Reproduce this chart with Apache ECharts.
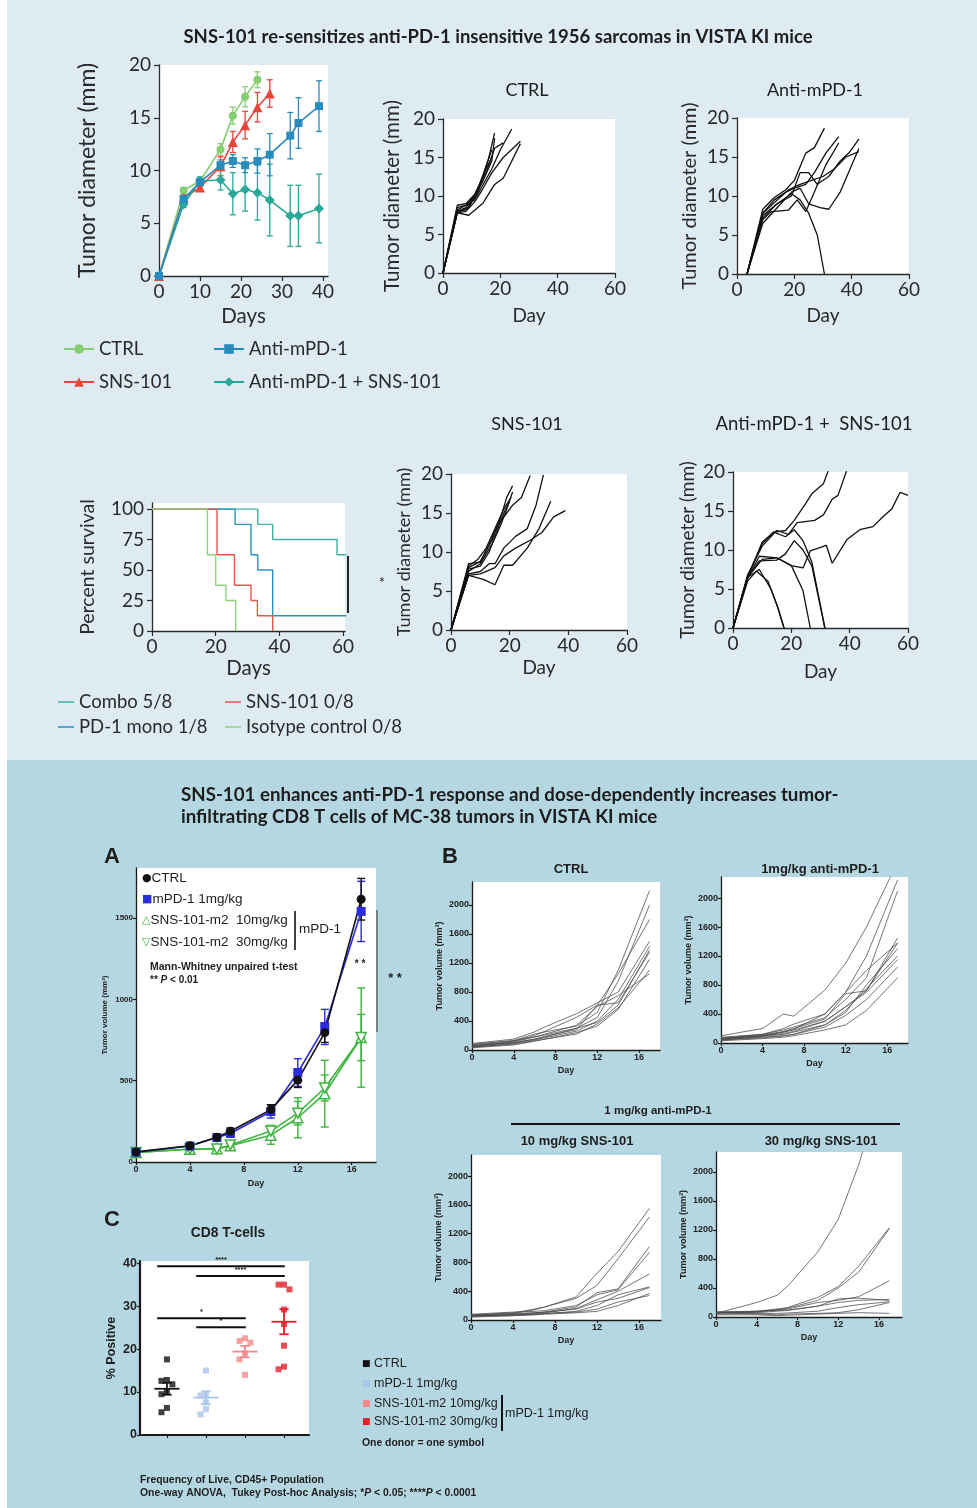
<!DOCTYPE html>
<html>
<head>
<meta charset="utf-8">
<script src="https://cdn.jsdelivr.net/npm/echarts@6/dist/echarts.min.js"></script>
<style>
html, body { margin: 0; padding: 0; background: #fff; }
#chart {
  width: 977px; height: 1508px;
  background-image: linear-gradient(to right, #fff 0, #fff 7px, transparent 7px),
                    linear-gradient(to bottom, #deebf3 0, #deebf3 760px, #b5d7e2 760px);
}
</style>
</head>
<body>
<div id="chart"></div>
<script>
'use strict';

// ---------- 1956 sarcoma: mean tumour diameter (mm) ----------
let ctrlDays = [0, 6, 10, 15, 18, 21, 24];
let ctrlMean = [0, 8.1, 9.0, 12.0, 15.2, 17.0, 18.6];
let ctrlErr  = [0, 0.3, 0.3, 0.55, 0.8, 0.95, 0.75];
let snsDays  = [0, 6, 10, 15, 18, 21, 24, 27];
let snsMean  = [0, 7.4, 8.4, 10.4, 12.7, 14.3, 16.0, 17.3];
let snsErr   = [0, 0.3, 0.3, 0.9, 1.0, 1.3, 1.4, 1.3];
let pd1Days  = [0, 6, 10, 15, 18, 21, 24, 27, 32, 34, 39];
let pd1Mean  = [0, 7.3, 8.9, 10.5, 10.9, 10.5, 10.9, 11.5, 13.3, 14.5, 16.1];
let pd1Err   = [0, 0.3, 0.4, 0.5, 0.6, 0.7, 1.15, 2.0, 2.2, 2.4, 2.4];
let comboMean = [0, 6.8, 9.0, 9.1, 7.8, 8.2, 7.9, 7.2, 5.7, 5.7, 6.4];
let comboErr  = [0, 0.3, 0.4, 0.95, 2.0, 2.05, 2.6, 3.4, 2.9, 2.9, 3.25];

// individual mice, [day, diameter]
let ctrlMice = [
  [[0,0],[5,8.8],[8,9.0],[11,10.2],[14,12.5],[16,15.0],[18,18.2]],
  [[0,0],[5,8.5],[8,8.8],[11,9.5],[14,11.5],[17,13.5],[20,16.0],[24,18.7]],
  [[0,0],[5,7.8],[8,8.0],[11,9.2],[14,11.0],[17,13.0],[21,15.0],[27,17.1]],
  [[0,0],[5,7.8],[9,7.5],[14,9.1],[18,11.5],[21,12.3],[27,16.8]],
  [[0,0],[5,8.0],[8,8.5],[11,10.0],[14,12.0],[17,14.5],[18,17.5]],
  [[0,0],[5,8.2],[8,8.8],[12,10.5],[15,13.0],[18,16.2],[21,16.9]],
  [[0,0],[5,8.0],[8,8.2],[11,9.8],[14,12.8],[17,16.0]],
  [[0,0],[5,7.9],[9,8.5],[12,10.5],[15,13.5],[17,15.0]]
];
let pd1Mice = [
  [[3.5,0],[9,8.3],[13,9.8],[17,10.8],[20,12.0],[24,15.5],[27,16.2],[30.5,18.7]],
  [[3.5,0],[9,7.5],[14,9.0],[19,10.3],[22,9.5],[25,7.8],[28,5.0],[30.5,0]],
  [[3.5,0],[9,7.8],[13,9.5],[17,10.5],[20,11.0],[24,11.5],[27,13.0],[31,15.5],[35.5,17.6]],
  [[3.5,0],[9,7.0],[12,8.0],[18,8.2],[21,9.5],[24,8.0],[27,10.5],[31,14.0],[35.5,16.8]],
  [[3.5,0],[9,7.2],[14,9.0],[19,10.0],[22,13.0],[25,13.0],[28,11.5],[32,12.5],[36,14.5],[39,15.5],[42.5,17.3]],
  [[3.5,0],[9,6.5],[14,8.5],[19,10.5],[22,11.0],[25,9.0],[29,8.5],[32,8.3],[36,10.5],[42.5,16.1]],
  [[3.5,0],[9,7.8],[14,9.5],[18,10.8],[22,11.5],[26,12.0],[30,12.5],[34,13.5],[38,15.0],[42.5,15.7]]
];
let snsMice = [
  [[0,0],[6,8.0],[10,8.8],[14,11.5],[17,14.5],[19,17.0],[21,18.5]],
  [[0,0],[6,7.5],[10,8.5],[14,11.0],[17,13.5],[19,15.5],[21,17.7]],
  [[0,0],[6,8.5],[10,8.7],[13,11.0],[16,13.5],[19,15.0],[21,16.0],[24,17.0],[27,19.8]],
  [[0,0],[6,7.2],[10,7.5],[13,8.5],[15,8.5],[18,10.5],[22,12.0],[26,13.0],[29,16.0],[31.5,19.9]],
  [[0,0],[6,7.0],[11,6.5],[15,5.8],[18,8.3],[21,8.3],[26,10.5],[30,13.0],[34,16.5]],
  [[0,0],[6,7.0],[10,7.2],[15,8.0],[18,9.5],[22,10.5],[27,11.5],[31,12.5],[35,14.5],[39,15.3]],
  [[0,0],[6,7.8],[10,8.2],[13,10.0],[16,13.0],[18,15.0],[20,16.5]],
  [[0,0],[6,8.2],[9,9.0],[12,10.5],[15,13.0],[18,15.5],[20.5,17.0]]
];
let comboMice = [
  [[0,0],[5,6.5],[10,11.0],[14,12.3],[18,12.5],[21,13.8],[25,16.0],[27,17.2],[31,18.5],[33,20.5]],
  [[0,0],[5,6.8],[10,10.5],[15,12.5],[19,12.0],[22,13.5],[28,13.8],[31,14.5],[34,16.5],[36,17.0],[39,20.2]],
  [[0,0],[5,6.5],[10,8.8],[15,9.0],[20,8.0],[24,7.7],[26.5,9.9],[32,10.6],[34,8.3],[39,11.3],[43.5,12.6],[48,13.0],[51.5,14.3],[54.5,15.3],[57.3,17.4],[60,17.0]],
  [[0,0],[5,6.5],[10,10.8],[14,12.3],[18,11.7],[21,12.6],[24,11.2],[27,8.5],[31.5,0]],
  [[0,0],[5,6.3],[9,9.2],[15,9.0],[20,8.0],[24,4.8],[26.5,0]],
  [[0,0],[5,6.5],[9,8.6],[15,8.7],[18,9.5],[21,11.2],[24,10.0],[27,8.0],[31.5,0]],
  [[0,0],[5,6.5],[9,7.5],[13,5.0],[15.5,2.5],[17.5,0]],
  [[0,0],[5,6.0],[8,7.3],[12,6.0],[15,3.0],[17.5,0]]
];

// survival, step points [day, percent]
let survCombo   = [[0,100],[33.2,87.5],[37.9,75],[58.1,62.5],[61,62.5]];
let survPd1     = [[0,100],[26.1,87.5],[31.1,62.5],[33.2,50],[37.9,12.5],[61,12.5]];
let survSns     = [[0,100],[20.4,62.5],[25.9,37.5],[31.1,25],[33.1,12.5],[37.9,0]];
let survIsotype = [[0,100],[17.4,62.5],[20,37.5],[23.2,25],[26.3,0]];

// ---------- MC-38: panel A, mean tumour volume (mm3) ----------
let aDays = [0, 4, 6, 7, 10, 12, 14, 16.7];
let aCtrl  = [62, 100, 152, 189, 322, 503, 795, 1615];
let aCtrlErr = [10, 12, 18, 20, 30, 45, 60, 128];
let aPd1   = [60, 98, 150, 175, 310, 550, 830, 1540];
let aPd1Err = [10, 12, 15, 20, 40, 85, 108, 185];
let aSns10 = [58, 78, 82, 100, 165, 272, 420, 765];
let aSns10Err = [10, 12, 12, 15, 56, 123, 205, 305];
let aSns30 = [58, 80, 80, 105, 190, 300, 455, 765];
let aSns30Err = [8, 10, 12, 15, 35, 72, 80, 142];

// panel B, individual mice (same measurement days)
let bDays = [0, 4, 6, 7, 10, 12, 14, 17];
let bCtrl = [
  [80,130,220,250,330,520,1100,2200], [50,110,180,210,300,450,950,2000],
  [60,100,150,190,280,620,1050,1800], [90,150,250,320,500,650,800,1500],
  [40,90,140,170,260,400,700,1430],   [60,120,200,260,450,620,650,1350],
  [30,70,120,150,240,330,560,1250],   [70,130,180,220,340,600,750,1050],
  [50,100,150,180,300,380,620,1380],  [40,80,130,150,220,360,580,1100]
];
let bPd1 = [
  [100,200,400,370,730,1100,1600,2500], [60,100,150,190,400,700,1200,2250],
  [60,120,180,220,350,600,900,2100],    [50,100,130,160,300,500,720,1450],
  [70,110,160,200,330,680,720,1380],    [40,90,120,150,250,420,800,1300],
  [50,80,100,120,250,450,750,1200],     [60,100,150,180,300,500,700,1150],
  [40,70,100,120,220,380,600,1050],     [30,60,80,100,180,250,450,900],
  [80,120,200,260,400,700,1000,1380]
];
let bSns10 = [
  [70,100,150,180,320,650,950,1550], [60,90,140,180,300,480,850,1430],
  [50,80,100,110,180,380,430,1020],  [80,110,120,130,200,350,420,940],
  [60,70,90,100,160,280,400,640],    [50,60,80,90,120,200,350,460],
  [70,90,100,110,150,250,300,450],   [40,60,70,80,100,120,200,370],
  [60,70,80,90,110,150,250,340]
];
let bSns30 = [
  [50,200,300,420,900,1350,2100,3500], [60,80,110,130,270,420,700,1230],
  [50,70,100,120,230,400,620,1220],    [60,70,100,110,200,230,280,500],
  [70,60,80,90,150,250,260,230],       [40,50,50,55,80,130,170,210],
  [60,40,30,40,50,60,100,200],         [30,30,20,25,40,50,60,50],
  [70,80,90,95,150,200,230,240]
];

// panel C, % CD8 T cells (one value per donor)
let cCtrl  = [17.6, 12.8, 12.6, 11.8, 10.2, 9.5, 6.3, 5.3];
let cPd1   = [15.0, 9.6, 9.2, 7.6, 6.0, 4.8];
let cSns10 = [22.5, 21.9, 21.5, 19.0, 17.6, 14.0];
let cSns30 = [35.0, 35.0, 33.9, 29.2, 25.8, 20.8, 15.9, 15.3];
let sigFrom  = [0, 1, 0, 1];
let sigTo    = [3, 3, 2, 2];
let sigLevel = [39.3, 37.0, 27.2, 25.1];
let sigText  = ['****', '****', '*', '*'];

// ---------- colours ----------
const GREEN = '#86cc72', RED = '#e8463b', BLUE = '#2a8bbd', TEAL = '#27a898';
const A_BLUE = '#2b2be0', A_GREEN = '#3fb53f';
const C_COLORS = ['#111111', '#a7c6ea', '#f08a8a', '#e3202a'];
const SANS = 'Liberation Sans';

let chart = echarts.init(document.getElementById('chart'));

let pairs = (xs, ys) => xs.map((x, i) => [x, ys[i]]);

let grids = [
  {left: 159, top: 65,   width: 169, height: 211},  // 0 mean diameter
  {left: 443, top: 119,  width: 172, height: 154},  // 1 CTRL mice
  {left: 737, top: 118,  width: 172, height: 156},  // 2 anti-mPD-1 mice
  {left: 152, top: 503,  width: 193, height: 128},  // 3 survival
  {left: 451, top: 474,  width: 176, height: 156},  // 4 SNS-101 mice
  {left: 733, top: 472,  width: 175, height: 156},  // 5 combo mice
  {left: 136, top: 868,  width: 240, height: 294},  // 6 A
  {left: 472, top: 882,  width: 188, height: 168},  // 7 B ctrl
  {left: 721, top: 877,  width: 187, height: 166},  // 8 B pd1
  {left: 471, top: 1155, width: 190, height: 165},  // 9 B sns10
  {left: 716, top: 1152, width: 186, height: 165},  // 10 B sns30
  {left: 140, top: 1261, width: 169, height: 174}   // 11 C
].map(g => Object.assign({show: true, backgroundColor: '#fff', borderWidth: 0, containLabel: false, outerBoundsMode: 'none'}, g));

let plain = v => String(v);

let topAxis = function(gi, max, ticks, name, gap, isY, nameSize) {
  return {
    type: 'value', gridIndex: gi, min: 0, max: max,
    axisLine: {show: true, onZero: false, lineStyle: {color: '#2a2a2a', width: 1.3}},
    axisTick: {show: true, customValues: ticks, length: 5, lineStyle: {color: '#2a2a2a', width: 1.2}},
    axisLabel: {customValues: ticks, formatter: plain, fontFamily: 'Lato', fontSize: 19, color: '#2a2a2a', margin: isY ? 8 : 6},
    splitLine: {show: false},
    name: name, nameLocation: 'middle', nameGap: gap, nameRotate: isY ? 90 : 0, nameMoveOverlap: false,
    nameTextStyle: {fontFamily: 'Lato', fontSize: nameSize, color: '#2a2a2a'}
  };
};
let botAxis = function(gi, min, max, ticks, name, gap, isY, fs, lw) {
  return {
    type: 'value', gridIndex: gi, min: min, max: max,
    axisLine: {show: true, onZero: false, lineStyle: {color: '#1a1a1a', width: lw || 1.3}},
    axisTick: {show: true, customValues: ticks, length: 3, lineStyle: {color: '#1a1a1a', width: 1.2}},
    axisLabel: {show: !!name || isY, customValues: ticks, formatter: plain, fontFamily: SANS, fontWeight: 'bold', fontSize: fs, color: '#222', margin: 3},
    splitLine: {show: false},
    name: name, nameLocation: 'middle', nameGap: gap, nameRotate: isY ? 90 : 0, nameMoveOverlap: false,
    nameTextStyle: {fontFamily: SANS, fontWeight: 'bold', fontSize: fs, color: '#222'}
  };
};

let d20 = [0, 20, 40, 60], mm = [0, 5, 10, 15, 20];
let volTicks = [0, 400, 800, 1200, 1600, 2000], dayTicks = [0, 4, 8, 12, 16];
let volName = 'Tumor volume (mm\u00b3)';
let diam = 'Tumor diameter (mm)';

let xAxis = [
  topAxis(0, 41.2, [0, 10, 20, 30, 40], 'Days', 29.5, false, 20.5),
  topAxis(1, 60, d20, 'Day', 33.5, false, 19),
  topAxis(2, 60, d20, 'Day', 32.5, false, 19),
  topAxis(3, 60.6, d20, 'Days', 26.5, false, 20.5),
  topAxis(4, 60, d20, 'Day', 28.5, false, 19),
  topAxis(5, 60, d20, 'Day', 34.5, false, 19),
  botAxis(6, 0, 17.8, dayTicks, 'Day', 17, false, 9),
  botAxis(7, 0, 18.0, dayTicks, 'Day', 16, false, 9),
  botAxis(8, 0, 18.0, dayTicks, 'Day', 16, false, 9),
  botAxis(9, 0, 18.1, dayTicks, 'Day', 16, false, 9),
  botAxis(10, 0, 18.25, dayTicks, 'Day', 16, false, 9),
  botAxis(11, -0.69, 3.64, [0, 1, 2, 3], '', 0, false, 6, 2.2)
];
let yAxis = [
  topAxis(0, 20, mm, diam, 59.5, true, 23),
  topAxis(1, 20, mm, diam, 40.5, true, 20.5),
  topAxis(2, 20, mm, diam, 37, true, 20),
  topAxis(3, 105, [0, 25, 50, 75, 100], 'Percent survival', 54, true, 19.5),
  topAxis(4, 20, mm, diam, 38, true, 18),
  topAxis(5, 20, mm, diam, 35.5, true, 19),
  botAxis(6, 0, 1807, [0, 500, 1000, 1500], volName, 27, true, 8),
  botAxis(7, 0, 2317, volTicks, volName, 28, true, 9),
  botAxis(8, 0, 2290, volTicks, volName, 28, true, 9),
  botAxis(9, 0, 2292, volTicks, volName, 28, true, 9),
  botAxis(10, 0, 2276, volTicks, volName, 28, true, 9),
  botAxis(11, 0, 40.5, [0, 10, 20, 30, 40], '% Positive', 22, true, 12.5, 2.2)
];

let series = [];

let miceLines = function(gi, mice, color, width, opacity) {
  mice.forEach(m => series.push({
    type: 'line', xAxisIndex: gi, yAxisIndex: gi, data: m, symbol: 'none', silent: true,
    lineStyle: {color: color, width: width, opacity: opacity || 1}, z: 2
  }));
};

let errorBars = function(gi, xs, ys, es, color, cap, width) {
  series.push({
    type: 'custom', xAxisIndex: gi, yAxisIndex: gi, silent: true, z: 2,
    data: xs.map((x, i) => [x, ys[i] - es[i], ys[i] + es[i]]).filter((d, i) => es[i] > 0),
    renderItem: function(params, api) {
      let lo = api.coord([api.value(0), api.value(1)]);
      let hi = api.coord([api.value(0), api.value(2)]);
      let st = {stroke: color, lineWidth: width};
      return {type: 'group', children: [
        {type: 'line', shape: {x1: lo[0], y1: lo[1], x2: hi[0], y2: hi[1]}, style: st},
        {type: 'line', shape: {x1: lo[0] - cap, y1: lo[1], x2: lo[0] + cap, y2: lo[1]}, style: st},
        {type: 'line', shape: {x1: hi[0] - cap, y1: hi[1], x2: hi[0] + cap, y2: hi[1]}, style: st}
      ]};
    }
  });
};

let meanLine = function(gi, name, xs, ys, color, symbol, size, extra) {
  series.push(Object.assign({
    type: 'line', name: name, xAxisIndex: gi, yAxisIndex: gi, data: pairs(xs, ys),
    symbol: symbol, symbolSize: size, lineStyle: {color: color, width: 1.6},
    itemStyle: {color: color}, z: 3
  }, extra || {}));
};

// top mean panel
errorBars(0, ctrlDays, ctrlMean, ctrlErr, GREEN, 3, 1.3);
errorBars(0, snsDays, snsMean, snsErr, RED, 3, 1.3);
errorBars(0, pd1Days, comboMean, comboErr, TEAL, 3, 1.3);
errorBars(0, pd1Days, pd1Mean, pd1Err, BLUE, 3, 1.3);
meanLine(0, 'CTRL', ctrlDays, ctrlMean, GREEN, 'circle', 8);
meanLine(0, 'SNS-101', snsDays, snsMean, RED, 'triangle', 10);
meanLine(0, 'Anti-mPD-1 + SNS-101', pd1Days, comboMean, TEAL, 'diamond', 10);
meanLine(0, 'Anti-mPD-1', pd1Days, pd1Mean, BLUE, 'rect', 8);

// spaghetti panels
miceLines(1, ctrlMice, '#111', 1.3);
miceLines(2, pd1Mice, '#111', 1.3);
miceLines(4, snsMice, '#111', 1.3);
miceLines(5, comboMice, '#111', 1.3);

// survival
[['Combo 5/8', survCombo, '#3db3a2'], ['PD-1 mono 1/8', survPd1, '#2a93c4'],
 ['SNS-101 0/8', survSns, '#e8574c'], ['Isotype control 0/8', survIsotype, '#8fd37c']]
  .forEach(s => series.push({
    type: 'line', name: s[0], xAxisIndex: 3, yAxisIndex: 3, data: s[1], step: 'end',
    symbol: 'none', lineStyle: {color: s[2], width: 1.4}, itemStyle: {color: s[2]}
  }));

// panel A
errorBars(6, aDays, aSns10, aSns10Err, A_GREEN, 4, 1.4);
errorBars(6, aDays, aSns30, aSns30Err, A_GREEN, 4, 1.4);
errorBars(6, aDays, aPd1, aPd1Err, A_BLUE, 4, 1.4);
errorBars(6, aDays, aCtrl, aCtrlErr, '#111', 4, 1.4);
let hollow = {itemStyle: {color: '#fff', borderColor: A_GREEN, borderWidth: 1.5}};
meanLine(6, 'SNS-101-m2 10mg/kg', aDays, aSns10, A_GREEN, 'triangle', 10, hollow);
meanLine(6, 'SNS-101-m2 30mg/kg', aDays, aSns30, A_GREEN, 'triangle', 10, Object.assign({symbolRotate: 180}, hollow));
meanLine(6, 'mPD-1 1mg/kg', aDays, aPd1, A_BLUE, 'rect', 9);
meanLine(6, 'CTRL ', aDays, aCtrl, '#111', 'circle', 9);

// panel B
let toLines = group => group.map(v => pairs(bDays, v));
miceLines(7, toLines(bCtrl), '#4a4a4a', 0.9, 0.85);
miceLines(8, toLines(bPd1), '#4a4a4a', 0.9, 0.85);
miceLines(9, toLines(bSns10), '#4a4a4a', 0.9, 0.85);
miceLines(10, toLines(bSns30), '#4a4a4a', 0.9, 0.85);

// panel C: simple beeswarm so equal values do not overlap
let swarm = function(vals, idx) {
  let placed = [];
  let offs = [0, -0.14, 0.14, -0.28, 0.28];
  return vals.map(v => {
    let dx = offs.find(o => placed.every(p => Math.abs(p[0] - (idx + o)) > 0.1 || Math.abs(p[1] - v) > 1.5));
    let pt = [idx + (dx === undefined ? 0 : dx), v];
    placed.push(pt);
    return pt;
  });
};
let cGroups = [cCtrl, cPd1, cSns10, cSns30];
cGroups.forEach((vals, i) => series.push({
  type: 'scatter', xAxisIndex: 11, yAxisIndex: 11, data: swarm(vals, i),
  symbol: 'rect', symbolSize: 6, itemStyle: {color: C_COLORS[i]}, silent: true, z: 3
}));
let stats = cGroups.map(vals => {
  let n = vals.length, m = vals.reduce((a, b) => a + b, 0) / n;
  let sd = Math.sqrt(vals.reduce((a, b) => a + (b - m) * (b - m), 0) / (n - 1));
  return [m, sd / Math.sqrt(n)];
});
series.push({
  type: 'custom', xAxisIndex: 11, yAxisIndex: 11, silent: true, z: 4,
  data: stats.map((s, i) => [i, s[0], s[1]]),
  renderItem: function(params, api) {
    let i = api.value(0), m = api.value(1), e = api.value(2);
    let c = C_COLORS[params.dataIndex];
    let st = {stroke: c, lineWidth: 1.8};
    let p = (x, y) => api.coord([x, y]);
    let l = (a, b) => ({type: 'line', shape: {x1: a[0], y1: a[1], x2: b[0], y2: b[1]}, style: st});
    return {type: 'group', children: [
      l(p(i - 0.32, m), p(i + 0.32, m)),
      l(p(i, m - e), p(i, m + e)),
      l(p(i - 0.12, m - e), p(i + 0.12, m - e)),
      l(p(i - 0.12, m + e), p(i + 0.12, m + e))
    ]};
  }
});
series.push({
  type: 'custom', xAxisIndex: 11, yAxisIndex: 11, silent: true, z: 4,
  data: sigFrom.map((f, i) => [f, sigTo[i], sigLevel[i]]),
  renderItem: function(params, api) {
    let a = api.coord([api.value(0) - 0.25, api.value(2)]);
    let b = api.coord([api.value(1) + 0.02, api.value(2)]);
    return {type: 'group', children: [
      {type: 'line', shape: {x1: a[0], y1: a[1], x2: b[0], y2: b[1]}, style: {stroke: '#111', lineWidth: 2}},
      {type: 'text', x: (a[0] + b[0]) / 2, y: a[1] - 2,
       style: {text: sigText[params.dataIndex], fill: '#111', font: 'bold 7.5px "Liberation Sans"', align: 'center', verticalAlign: 'bottom'}}
    ]};
  }
});

// ---------- text and annotations ----------
let T = function(x, y, text, font, align, extra) {
  return {type: 'text', x: x, y: y, z: 50, silent: true,
    style: Object.assign({text: text, font: font, fill: '#1d1d1d', align: align || 'center', verticalAlign: 'middle'}, extra || {})};
};
let L = function(x1, y1, x2, y2, color, w) {
  return {type: 'line', z: 50, silent: true, shape: {x1: x1, y1: y1, x2: x2, y2: y2}, style: {stroke: color, lineWidth: w}};
};
let f = (size, bold) => (bold ? 'bold ' : '') + size + 'px "Liberation Sans"';
let sym = (color, size) => ({fill: color, fontSize: size, fontFamily: 'DejaVu Sans'});
let italicP = size => ({i: {fontStyle: 'italic', fontWeight: 'bold', fontSize: size, fontFamily: SANS, fill: '#1d1d1d'}});

let graphics = [
  T(498, 37, 'SNS-101 re-sensitizes anti-PD-1 insensitive 1956 sarcomas in VISTA KI mice', '700 18.5px Lato'),
  T(527, 90, 'CTRL', '18px Lato'),
  T(815, 90, 'Anti-mPD-1', '18px Lato'),
  T(527, 424, 'SNS-101', '18px Lato'),
  T(814, 424, 'Anti-mPD-1 +  SNS-101', '18.5px Lato'),
  T(382, 583, '*', '15px Lato'),
  L(348, 556, 348, 613, '#222', 2),

  T(181, 795, 'SNS-101 enhances anti-PD-1 response and dose-dependently increases tumor-', '700 18.7px Lato', 'left'),
  T(181, 817, 'infiltrating CD8 T cells of MC-38 tumors in VISTA KI mice', '700 18.7px Lato', 'left'),
  T(104, 857, 'A', f(22, true), 'left'),
  T(442, 857, 'B', f(22, true), 'left'),
  T(104, 1220, 'C', f(22, true), 'left'),

  T(571, 869, 'CTRL', f(13, true)),
  T(820, 869, '1mg/kg anti-mPD-1', f(13, true)),
  T(658, 1111, '1 mg/kg anti-mPD-1', f(11.5, true)),
  L(511, 1124, 900, 1124, '#111', 2),
  T(577, 1141, '10 mg/kg SNS-101', f(13, true)),
  T(821, 1141, '30 mg/kg SNS-101', f(13, true)),

  // panel A legend and stats
  T(142, 878, '{s|\u25cf}CTRL', f(13.5), 'left', {rich: {s: sym('#111', 11)}}),
  T(142, 899, '{s|\u25a0}mPD-1 1mg/kg', f(13.5), 'left', {rich: {s: sym(A_BLUE, 11)}}),
  T(142, 920, '{s|\u25b3}SNS-101-m2  10mg/kg', f(13.5), 'left', {rich: {s: sym(A_GREEN, 11)}}),
  T(142, 942, '{s|\u25bd}SNS-101-m2  30mg/kg', f(13.5), 'left', {rich: {s: sym(A_GREEN, 11)}}),
  L(295, 911, 295, 950, '#111', 1.6),
  T(299, 929, 'mPD-1', f(13.5), 'left'),
  T(150, 967, 'Mann-Whitney unpaired t-test', f(10.5, true), 'left'),
  T(150, 980, '** {i|P} < 0.01', f(10, true), 'left', {rich: italicP(10)}),
  T(360, 964, '* *', f(10, true)),
  L(377, 910, 377, 1032, '#666', 1.5),
  T(395, 978, '* *', f(13, true)),

  // panel C
  T(228, 1233, 'CD8 T-cells', f(13.8, true)),
  T(362, 1364, '{s|\u25a0} CTRL', f(12.5), 'left', {rich: {s: sym(C_COLORS[0], 9)}}),
  T(362, 1384, '{s|\u25a0} mPD-1 1mg/kg', f(12.5), 'left', {rich: {s: sym(C_COLORS[1], 9)}}),
  T(362, 1404, '{s|\u25a0} SNS-101-m2 10mg/kg', f(12.5), 'left', {rich: {s: sym(C_COLORS[2], 9)}}),
  T(362, 1422, '{s|\u25a0} SNS-101-m2 30mg/kg', f(12.5), 'left', {rich: {s: sym(C_COLORS[3], 9)}}),
  L(502, 1395, 502, 1431, '#111', 2),
  T(505, 1414, 'mPD-1 1mg/kg', f(12.5), 'left'),
  T(362, 1443, 'One donor = one symbol', f(10.4, true), 'left'),
  T(140, 1480, 'Frequency of Live, CD45+ Population', f(10.4, true), 'left'),
  T(140, 1493, 'One-way ANOVA,  Tukey Post-hoc Analysis; *{i|P} < 0.05; ****{i|P} < 0.0001', f(10.4, true), 'left', {rich: italicP(10.4)})
];

let legendText = {fontFamily: 'Lato', fontSize: 18.5, color: '#2a2a2a', lineHeight: 20};
let option = {
  animation: false,
  backgroundColor: 'transparent',
  grid: grids,
  xAxis: xAxis,
  yAxis: yAxis,
  legend: [
    {data: ['CTRL', 'SNS-101'], orient: 'vertical', left: 63, top: 339, padding: 0, itemWidth: 30, itemHeight: 12, itemGap: 13, textStyle: legendText, selectedMode: false},
    {data: ['Anti-mPD-1', 'Anti-mPD-1 + SNS-101'], orient: 'vertical', left: 213, top: 339, padding: 0, itemWidth: 30, itemHeight: 12, itemGap: 13, textStyle: legendText, selectedMode: false},
    {data: ['Combo 5/8', 'PD-1 mono 1/8'], orient: 'vertical', left: 58, top: 692, padding: 0, icon: 'rect', itemWidth: 16, itemHeight: 1.5, itemGap: 5, textStyle: legendText, selectedMode: false},
    {data: ['SNS-101 0/8', 'Isotype control 0/8'], orient: 'vertical', left: 225, top: 692, padding: 0, icon: 'rect', itemWidth: 16, itemHeight: 1.5, itemGap: 5, textStyle: legendText, selectedMode: false}
  ],
  series: series,
  graphic: graphics
};
chart.setOption(option);
</script>
</body>
</html>
